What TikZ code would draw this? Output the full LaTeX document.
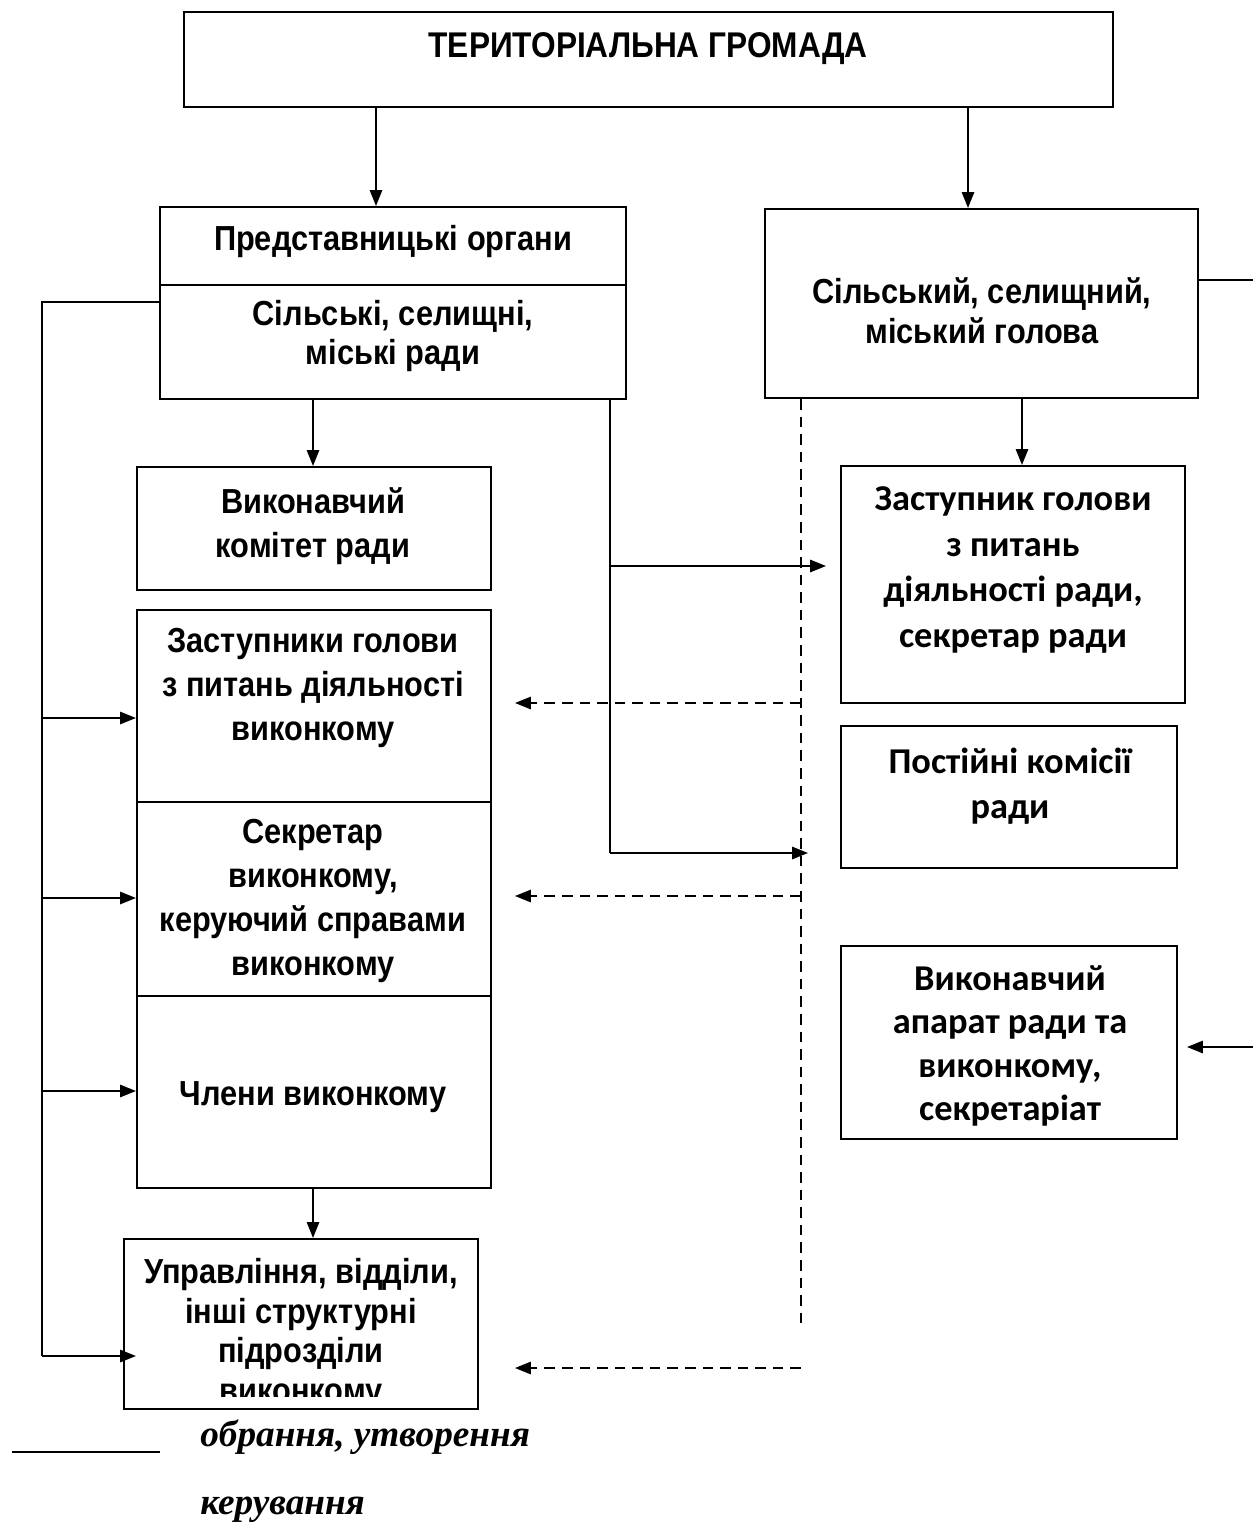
\documentclass[tikz,border=0pt]{standalone}
\usepackage{fontspec}
\setmainfont{Liberation Sans}
\newfontfamily\legfont{Liberation Serif}
\newfontfamily\calfont{Carlito}
\usetikzlibrary{arrows.meta,fit}
\newcommand\mytxt[4]{\begin{scope}[shift={(#2)}]\node[#3,yscale=1.13,transform shape] (#1) at (0,0) {#4};\end{scope}}
\begin{document}
\begin{tikzpicture}[x=0.02cm,y=-0.02cm,
  box/.style={draw,line width=1.2pt,inner sep=0pt},
  txt/.style={inner sep=0pt,align=center,font=\fontsize{17.5}{22.3}\selectfont\bfseries},
  txtb/.style={inner sep=0pt,align=center,font=\fontsize{17.5}{20.1}\selectfont\bfseries},
  ctxt/.style={inner sep=0pt,align=center,font=\calfont\fontsize{20.7}{26}\selectfont\bfseries},
  arr/.style={line width=1pt,-{Triangle[length=9pt,width=7pt]}},
  ln/.style={line width=1pt},
  dsh/.style={line width=1pt,dash pattern=on 6pt off 4pt},
  darr/.style={line width=1pt,dash pattern=on 6pt off 4pt,-{Triangle[length=9pt,width=7pt]}},
  legtxt/.style={inner sep=0pt,font=\legfont\fontsize{21.2}{24}\selectfont\bfseries\itshape}]
\useasboundingbox (0,0) rectangle (1253,1528);

% boxes
\node[box,fit={(184,12)(1113,107)}] (title) {};
\node[box,fit={(160,207)(626,285)}] (reprA) {};
\node[box,fit={(160,285)(626,399)}] (repr) {};
\node[box,fit={(765,209)(1198,398)}] (hol) {};
\node[box,fit={(137,467)(491,590)}] (vk) {};
\node[box,fit={(137,610)(491,802)}] (zastB) {};
\node[box,fit={(137,802)(491,996)}] (sekrB) {};
\node[box,fit={(137,996)(491,1188)}] (chlB) {};
\node[box,fit={(124,1239)(478,1409)}] (upr) {};
\node[box,fit={(841,466)(1185,703)}] (zr) {};
\node[box,fit={(841,726)(1177,868)}] (pk) {};
\node[box,fit={(841,946)(1177,1139)}] (va) {};

% texts
\mytxt{tTitle}{648,49}{txt,font=\fontsize{18}{22}\selectfont\bfseries}{ТЕРИТОРІАЛЬНА ГРОМАДА}
\mytxt{tReprA}{393,242}{txt}{Представницькі органи}
\mytxt{tRepr}{393,336}{txtb}{Сільські, селищні,\\міські ради}
\mytxt{tHol}{982,311}{txtb}{Сільський, селищний,\\міський голова}
\mytxt{tVk}{313,526}{txt}{Виконавчий\\комітет ради}
\mytxt{tZast}{313,688}{txt}{Заступники голови\\з питань діяльності\\виконкому}
\mytxt{tSekr}{313,901}{txt}{Секретар\\виконкому,\\керуючий справами\\виконкому}
\mytxt{tChl}{313,1097}{txt}{Члени виконкому}
\begin{scope}
\clip (124,1239) rectangle (478,1396);
\mytxt{tUpr}{301,1334}{txtb}{Управління, відділи,\\інші структурні\\підрозділи\\виконкому}
\end{scope}
\node[ctxt] (tZr) at (1013,570) {Заступник голови\\з питань\\діяльності ради,\\секретар ради};
\node[ctxt,font=\calfont\fontsize{20.7}{25.5}\selectfont\bfseries] (tPk) at (1010,786) {Постійні комісії\\ради};
\node[ctxt,font=\calfont\fontsize{20.7}{24.6}\selectfont\bfseries] (tVa) at (1010,1046) {Виконавчий\\апарат ради та\\виконкому,\\секретаріат};

% coordinates
\coordinate (cA) at (376,0);
\coordinate (cB) at (968,0);
\coordinate (cC) at (313,0);
\coordinate (cD) at (1022,0);
\coordinate (e1) at (610,566);
\coordinate (e2) at (610,853);
\coordinate (t1) at (826,566);
\coordinate (t2) at (808,853);
\coordinate (g0) at (42,302);
\coordinate (g1) at (42,718);
\coordinate (g2) at (42,898);
\coordinate (g3) at (42,1091);
\coordinate (g4) at (42,1356);
\coordinate (f0) at (801,1330);
\coordinate (f1) at (801,703);
\coordinate (f2) at (801,896);
\coordinate (f3) at (801,1368);
\coordinate (d1) at (515,703);
\coordinate (d2) at (515,896);
\coordinate (d3) at (515,1368);
\coordinate (r0) at (1253,280);
\coordinate (r1) at (1253,1047);
\coordinate (r2) at (1187,1047);
\coordinate (l0) at (12,1452);
\coordinate (l1) at (160,1452);

% connectors
\draw[arr] (title.south -| cA) -- (reprA.north -| cA);
\draw[arr] (title.south -| cB) -- (hol.north -| cB);
\draw[arr] (repr.south -| cC) -- (vk.north -| cC);
\draw[arr] (hol.south -| cD) -- (zr.north -| cD);
\draw[ln] (repr.south -| e1) -- (e2);
\draw[arr] (e1) -- (t1);
\draw[arr] (e2) -- (t2);
\draw[ln] (repr.west |- g0) -- (g0) -- (g4);
\draw[arr] (g1) -- (zastB.west |- g1);
\draw[arr] (g2) -- (sekrB.west |- g2);
\draw[arr] (g3) -- (chlB.west |- g3);
\draw[arr] (g4) -- ([xshift=0.26cm]upr.west |- g4);
\draw[arr] (chlB.south -| cC) -- (upr.north -| cC);
\draw[dsh] (hol.south -| f0) -- (f0);
\draw[darr] (f1) -- (d1);
\draw[darr] (f2) -- (d2);
\draw[darr] (f3) -- (d3);
\draw[ln] (hol.east |- r0) -- (r0);
\draw[arr] (r1) -- (r2);

% legend
\draw[ln] (l0) -- (l1);
\node[legtxt,anchor=west] (lg1) at (200,1437) {обрання, утворення};
\node[legtxt,anchor=west] (lg2) at (200,1510) {керування};
\end{tikzpicture}
\end{document}
